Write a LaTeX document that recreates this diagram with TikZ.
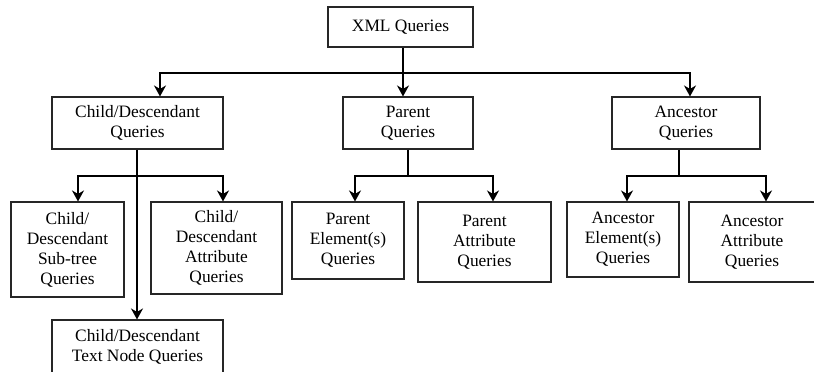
\documentclass[tikz,border=0pt]{standalone}
\usepackage{fontspec}
\setmainfont{Liberation Serif}
\usepackage{tikz}
\usetikzlibrary{arrows.meta}
\usetikzlibrary{positioning}
\usetikzlibrary{calc}

\begin{document}
\begin{tikzpicture}[x=1pt, y=-1pt,
    box/.style={rectangle, draw=black!85, line width=1.1pt, align=center, inner sep=0pt,
      font=\fontsize{17.4}{20}\selectfont},
    link/.style={line width=2pt, draw=black},
    arr/.style={link, -{Stealth[length=11pt, width=12pt, inset=3.5pt]}}]
      % Page frame
      \useasboundingbox (0,0) rectangle (814,372);
      % Root of the tree
      \node[box, minimum width=145, minimum height=40] (xml) at (400.5,27) {XML Queries};
      % First level
      \node[box, minimum width=171, minimum height=52] (child) at (137.5,123) {Child/Descendant\\Queries};
      \node[box, minimum width=130, minimum height=52] (parent) at (408,123) {Parent\\Queries};
      \node[box, minimum width=148, minimum height=52] (anc) at (686,123) {Ancestor\\Queries};
      % Second level
      \node[box, minimum width=113, minimum height=95] (subtree) at (67.5,249.5) {Child/\\Descendant\\Sub-tree\\Queries};
      \node[box, minimum width=131, minimum height=92] (cattr) at (216.5,248) {Child/\\Descendant\\Attribute\\Queries};
      \node[box, minimum width=112, minimum height=77] (pelem) at (348,240.5) {Parent\\Element(s)\\Queries};
      \node[box, minimum width=133, minimum height=80] (pattr) at (484.5,242) {Parent\\Attribute\\Queries};
      \node[box, minimum width=112, minimum height=75] (aelem) at (623,239.5) {Ancestor\\Element(s)\\Queries};
      \node[box, minimum width=126, minimum height=80] (aattr) at (752,242) {Ancestor\\Attribute\\Queries};
      \node[box, minimum width=171, minimum height=54] (text) at (137.5,347) {Child/Descendant\\Text Node Queries};
      % Junctions of the connectors
      \coordinate (j1) at (403,73);
      \coordinate (j2) at (137,176);
      \coordinate (j3) at (408,176);
      \coordinate (j4) at (679,176);
      % Root to first level
      \draw[arr] (xml.south -| j1) -- (j1 |- parent.north);
      \draw[arr] (j1) -| ([xshift=22.5]child.north);
      \draw[arr] (j1) -| ([xshift=4]anc.north);
      % Child/Descendant branch
      \draw[arr] (child.south -| j2) -- (j2 |- text.north);
      \draw[arr] (j2) -| ([xshift=10.5]subtree.north);
      \draw[arr] (j2) -| ([xshift=6.5]cattr.north);
      % Parent branch
      \draw[link] (parent.south -| j3) -- (j3);
      \draw[arr] (j3) -| ([xshift=7]pelem.north);
      \draw[arr] (j3) -| ([xshift=8.5]pattr.north);
      % Ancestor branch
      \draw[link] (anc.south -| j4) -- (j4);
      \draw[arr] (j4) -| ([xshift=4]aelem.north);
      \draw[arr] (j4) -| ([xshift=14]aattr.north);
    \end{tikzpicture}
\end{document}
